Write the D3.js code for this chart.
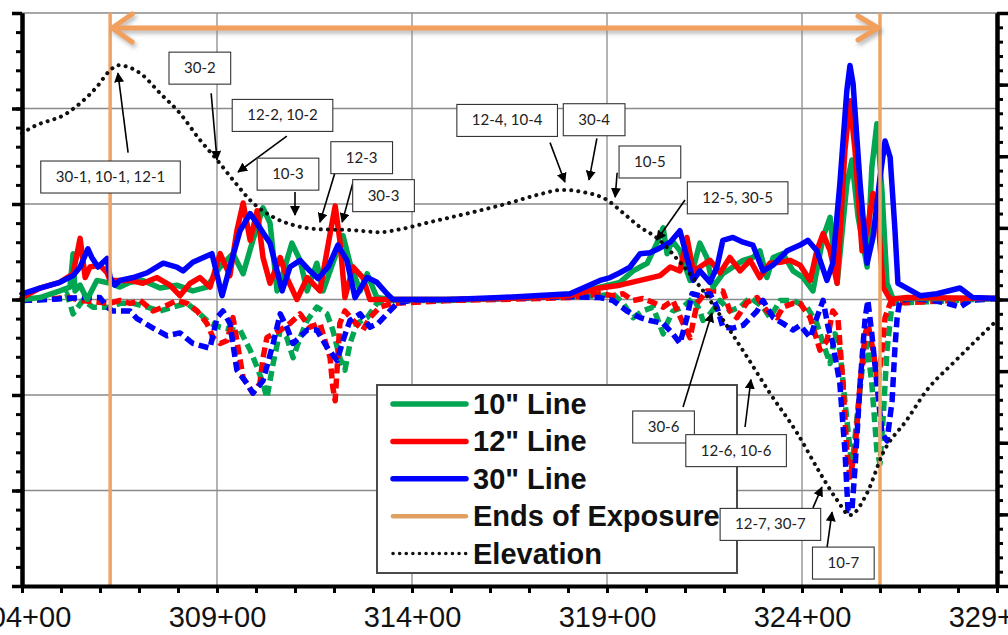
<!DOCTYPE html>
<html>
<head>
<meta charset="utf-8">
<script src="https://d3js.org/d3.v7.min.js"></script>
<style>
body { margin: 0; background: #fff; overflow: hidden; }
svg { display: block; }
</style>
</head>
<body>
<div id="chart"></div>
<script>
// stations (Sta. 304+00 .. 329+00) and response values
// positive (solid) and negative (dashed) traces for each line
var line10Pos = [[304.0,0.0],[304.46,0.02],[304.97,0.09],[305.23,0.13],[305.31,0.48],[305.36,0.09],[305.49,0.15],[305.67,0.0],[305.92,0.2],[306.26,0.17],[306.51,0.13],[306.77,0.18],[307.1,0.2],[307.54,0.12],[307.97,0.15],[308.38,0.09],[308.74,0.13],[309.08,0.34],[309.41,0.48],[309.67,0.27],[309.92,0.62],[310.18,0.96],[310.36,0.8],[310.54,0.09],[310.69,0.27],[310.92,0.59],[311.13,0.41],[311.31,0.09],[311.56,0.38],[311.72,0.09],[311.97,0.38],[312.23,0.67],[312.41,0.38],[312.67,0.09],[312.85,0.27],[313.1,0.02],[313.44,0.0],[314.97,0.0],[316.26,0.01],[318.05,0.05],[318.82,0.13],[319.33,0.18],[319.67,0.3],[320.03,0.38],[320.28,0.59],[320.44,0.75],[320.54,0.48],[320.67,0.62],[320.87,0.51],[321.13,0.2],[321.38,0.59],[321.56,0.44],[321.72,0.13],[321.97,0.27],[322.23,0.34],[322.49,0.41],[322.74,0.44],[322.92,0.51],[323.1,0.23],[323.26,0.44],[323.51,0.48],[323.77,0.3],[324.03,0.23],[324.28,0.09],[324.54,0.65],[324.72,0.86],[324.9,0.17],[325.15,1.21],[325.28,1.46],[325.44,0.86],[325.67,0.34],[325.79,1.38],[325.92,1.84],[326.05,1.14],[326.18,0.17],[326.33,0.01],[329.0,0.01]];
var line12Pos = [[304.0,0.02],[304.46,0.12],[304.97,0.18],[305.31,0.27],[305.49,0.64],[305.62,0.23],[305.74,0.34],[306.0,0.36],[306.18,0.28],[306.26,0.2],[306.51,0.2],[306.77,0.2],[307.1,0.17],[307.46,0.23],[307.79,0.15],[308.05,0.04],[308.31,0.17],[308.56,0.23],[308.82,0.13],[309.08,0.48],[309.33,0.25],[309.51,0.72],[309.67,1.01],[309.85,0.62],[310.03,0.93],[310.18,0.44],[310.36,0.17],[310.62,0.44],[310.79,0.23],[311.05,0.0],[311.31,0.23],[311.64,0.09],[311.9,0.69],[312.03,0.98],[312.15,0.62],[312.28,0.02],[312.49,0.34],[312.74,0.23],[312.92,0.0],[313.44,0.0],[314.97,0.0],[316.26,0.01],[318.05,0.04],[318.82,0.12],[319.33,0.15],[319.85,0.2],[320.36,0.25],[320.62,0.34],[320.87,0.3],[321.05,0.65],[321.21,0.3],[321.38,0.34],[321.64,0.41],[321.9,0.28],[322.15,0.44],[322.41,0.3],[322.67,0.41],[322.92,0.23],[323.18,0.38],[323.44,0.39],[323.69,0.41],[323.95,0.36],[324.21,0.2],[324.38,0.51],[324.54,0.69],[324.72,0.51],[324.9,0.17],[325.1,1.56],[325.23,2.08],[325.36,1.56],[325.54,0.51],[325.67,0.72],[325.82,1.11],[325.95,0.86],[326.08,0.13],[326.26,0.0],[326.69,0.02],[329.0,0.01]];
var line30Pos = [[304.0,0.06],[304.46,0.12],[304.97,0.18],[305.31,0.25],[305.49,0.34],[305.69,0.53],[305.79,0.44],[305.95,0.34],[306.18,0.43],[306.26,0.23],[306.38,0.15],[306.51,0.2],[306.85,0.23],[307.21,0.28],[307.62,0.38],[307.97,0.34],[308.13,0.3],[308.38,0.39],[308.87,0.48],[309.13,0.04],[309.33,0.34],[309.59,0.72],[309.85,0.9],[310.1,0.75],[310.36,0.59],[310.67,0.09],[310.87,0.34],[311.13,0.41],[311.38,0.3],[311.59,0.22],[311.85,0.34],[312.1,0.57],[312.33,0.41],[312.54,0.02],[312.85,0.23],[313.1,0.18],[313.36,0.06],[313.51,0.0],[313.95,0.0],[314.97,0.0],[316.26,0.02],[318.05,0.06],[318.82,0.2],[319.08,0.23],[319.33,0.28],[319.59,0.34],[319.85,0.48],[320.1,0.49],[320.36,0.54],[320.62,0.6],[320.87,0.72],[321.05,0.44],[321.21,0.2],[321.38,0.3],[321.64,0.18],[321.82,0.34],[321.97,0.62],[322.23,0.65],[322.49,0.6],[322.74,0.57],[323.0,0.3],[323.26,0.36],[323.62,0.51],[323.95,0.57],[324.15,0.62],[324.38,0.51],[324.64,0.2],[324.79,0.38],[324.97,1.21],[325.15,2.19],[325.23,2.45],[325.31,2.26],[325.49,1.21],[325.67,0.38],[325.82,0.65],[326.0,1.28],[326.13,1.66],[326.26,1.49],[326.38,0.75],[326.46,0.17],[326.64,0.13],[327.03,0.04],[327.46,0.06],[328.05,0.12],[328.38,0.02],[329.0,0.01]];
var line10Neg = [[304.0,-0.01],[304.97,0.01],[305.15,0.06],[305.31,-0.15],[305.56,-0.01],[305.82,-0.08],[306.26,-0.08],[306.51,-0.04],[306.85,-0.04],[307.21,-0.08],[307.54,-0.12],[307.87,-0.08],[308.23,-0.04],[308.56,-0.15],[308.82,-0.25],[309.08,-0.29],[309.41,-0.32],[309.59,-0.32],[309.85,-0.53],[310.03,-0.71],[310.18,-0.88],[310.28,-1.03],[310.44,-0.67],[310.62,-0.32],[310.79,-0.4],[310.95,-0.61],[311.13,-0.4],[311.31,-0.22],[311.56,-0.08],[311.82,-0.15],[311.97,-0.32],[312.15,-0.61],[312.28,-0.74],[312.41,-0.46],[312.59,-0.25],[312.85,-0.19],[313.1,-0.04],[313.44,-0.01],[314.97,-0.01],[316.26,0.01],[318.05,0.03],[318.82,0.04],[319.15,0.06],[319.41,-0.04],[319.67,-0.19],[319.92,-0.12],[320.18,-0.08],[320.44,-0.36],[320.54,-0.25],[320.69,-0.12],[320.95,-0.08],[321.21,0.02],[321.38,-0.12],[321.46,-0.22],[321.64,-0.15],[321.9,-0.01],[322.15,-0.12],[322.41,-0.08],[322.67,0.02],[323.0,-0.08],[323.18,-0.19],[323.44,-0.01],[323.77,-0.01],[324.13,-0.08],[324.38,-0.25],[324.54,-0.46],[324.72,-0.67],[324.85,-0.36],[324.97,-0.53],[325.1,-1.06],[325.28,-1.76],[325.41,-1.24],[325.54,-0.74],[325.67,-0.46],[325.79,-0.88],[325.92,-1.58],[326.0,-1.72],[326.08,-1.24],[326.18,-0.53],[326.31,-0.04],[329.0,0.01]];
var line12Neg = [[304.0,-0.01],[305.23,0.02],[305.49,-0.01],[306.26,-0.04],[306.51,-0.01],[306.77,-0.04],[307.03,-0.01],[307.36,-0.12],[307.62,-0.08],[307.97,-0.01],[308.23,-0.04],[308.49,-0.12],[308.74,-0.25],[308.9,-0.4],[309.08,-0.46],[309.26,-0.43],[309.41,-0.19],[309.51,-0.43],[309.67,-0.82],[309.92,-0.98],[310.1,-0.88],[310.18,-0.61],[310.28,-0.4],[310.62,-0.32],[310.87,-0.25],[311.13,-0.15],[311.38,-0.29],[311.64,-0.25],[311.82,-0.5],[311.9,-0.61],[311.97,-0.92],[312.03,-1.06],[312.15,-0.25],[312.28,-0.12],[312.49,-0.22],[312.74,-0.32],[312.92,-0.19],[313.18,-0.08],[313.51,-0.04],[314.97,-0.01],[316.26,0.0],[318.05,0.02],[318.82,0.06],[319.15,0.04],[319.41,0.06],[319.67,-0.01],[319.92,0.01],[320.18,-0.03],[320.44,-0.08],[320.69,-0.01],[320.95,-0.25],[321.13,-0.4],[321.31,-0.04],[321.56,0.09],[321.97,0.09],[322.15,-0.12],[322.33,-0.19],[322.59,-0.03],[322.85,0.02],[323.1,-0.12],[323.36,-0.19],[323.51,-0.08],[323.77,-0.04],[323.95,-0.04],[324.21,-0.19],[324.46,-0.53],[324.64,-0.43],[324.79,-0.12],[324.92,-0.19],[325.05,-0.88],[325.15,-1.58],[325.23,-1.86],[325.36,-1.58],[325.49,-0.88],[325.62,-0.36],[325.69,-0.25],[325.82,-0.53],[325.95,-0.88],[326.05,-0.53],[326.13,-0.19],[326.26,-0.04],[329.0,0.01]];
var line30Neg = [[304.0,-0.01],[304.72,0.0],[305.49,0.02],[306.0,0.02],[306.18,-0.08],[306.33,-0.12],[306.77,-0.12],[306.95,-0.2],[307.36,-0.3],[307.72,-0.38],[308.05,-0.35],[308.38,-0.46],[308.82,-0.51],[309.0,-0.19],[309.15,-0.12],[309.33,-0.25],[309.51,-0.74],[309.77,-0.88],[309.92,-0.98],[310.18,-0.85],[310.44,-0.46],[310.62,-0.15],[310.79,-0.29],[310.95,-0.46],[311.31,-0.32],[311.56,-0.32],[311.82,-0.5],[312.08,-0.64],[312.23,-0.43],[312.41,-0.22],[312.67,-0.15],[312.92,-0.29],[313.13,-0.25],[313.36,-0.15],[313.62,-0.04],[313.95,-0.01],[314.97,0.0],[316.26,0.01],[318.05,0.03],[318.82,0.02],[319.15,-0.01],[319.51,-0.12],[319.85,-0.19],[320.1,-0.22],[320.44,-0.25],[320.69,-0.36],[320.87,-0.46],[321.05,-0.19],[321.18,0.06],[321.38,0.04],[321.64,0.06],[321.82,-0.08],[321.97,-0.29],[322.23,-0.3],[322.49,-0.27],[322.85,-0.12],[323.0,-0.01],[323.26,-0.19],[323.51,-0.25],[323.77,-0.32],[323.95,-0.27],[324.21,-0.4],[324.38,-0.19],[324.54,-0.01],[324.67,-0.29],[324.79,-0.46],[324.97,-0.88],[325.1,-1.58],[325.18,-2.21],[325.28,-2.21],[325.36,-1.76],[325.49,-0.88],[325.62,-0.19],[325.69,-0.01],[325.79,-0.36],[325.92,-0.88],[326.05,-1.4],[326.18,-1.48],[326.31,-1.06],[326.38,-0.53],[326.44,-0.19],[326.51,-0.01],[326.85,0.01],[327.36,-0.01],[327.72,-0.04],[328.05,-0.08],[328.31,-0.01],[329.0,0.01]];

// ground elevation profile (right axis units)
var elevSta = [304.0,304.28,305.15,305.92,306.26,306.46,307.03,307.54,308.05,308.56,309.0,309.41,309.92,310.44,310.95,311.64,312.41,313.18,313.69,314.46,315.49,316.51,317.21,317.87,318.38,319.0,319.41,319.85,320.28,320.87,321.64,322.15,322.59,323.18,323.87,324.46,324.9,325.23,325.67,326.08,326.69,327.21,327.87,328.56,329.0];
var elevVal = [6.32,6.41,6.6,6.97,7.2,7.27,7.16,6.88,6.6,6.23,5.95,5.67,5.35,5.15,5.04,4.98,4.97,4.94,4.98,5.08,5.21,5.35,5.46,5.53,5.5,5.39,5.21,5.01,4.86,4.52,3.99,3.57,3.2,2.69,2.14,1.58,1.2,0.99,1.3,1.86,2.32,2.74,3.11,3.48,3.71];

var exposureEnds = [306.26, 326.0];
var labelStations = [304, 309, 314, 319, 324, 329];
var legendNames = ['10" Line', '12" Line', '30" Line', 'Ends of Exposure', 'Elevation'];

// callouts: text, box centre, arrow start, arrow tip  (station, elevation)
var callouts = [
    {text: "30-1, 10-1, 12-1", box: [306.27, 5.71], from: [306.72, 6.05], to: [306.46, 7.16]},
    {text: "30-2",       box: [308.56, 7.23], from: [308.85, 6.88], to: [309.0, 5.95]},
    {text: "12-2, 10-2", box: [310.68, 6.57], from: [310.79, 6.28], to: [309.54, 5.78]},
    {text: "10-3",       box: [310.82, 5.75], from: [311.0, 5.5],   to: [311.0, 5.18]},
    {text: "12-3",       box: [312.71, 5.98], from: [312.03, 5.78], to: [311.64, 5.08]},
    {text: "30-3",       box: [313.27, 5.45], from: [312.49, 5.64], to: [312.21, 5.08]},
    {text: "12-4, 10-4", box: [316.44, 6.5],  from: [317.54, 6.19], to: [317.92, 5.64]},
    {text: "30-4",       box: [318.67, 6.51], from: [318.74, 6.25], to: [318.54, 5.67]},
    {text: "10-5",       box: [320.1, 5.92],  from: [319.26, 5.77], to: [319.21, 5.43]},
    {text: "12-5, 30-5", box: [322.35, 5.42], from: [321.0, 5.39],  to: [320.28, 4.83]},
    {text: "30-6",       box: [320.45, 2.22], from: [320.95, 2.5],  to: [321.69, 3.81]},
    {text: "12-6, 10-6", box: [322.31, 1.89], from: [322.54, 2.22], to: [322.69, 2.88]},
    {text: "12-7, 30-7", box: [323.19, 0.86], from: [324.28, 1.09], to: [324.51, 1.38]},
    {text: "10-7",       box: [325.06, 0.32], from: [324.64, 0.53], to: [324.77, 1.03]}
];

var W = 1008, H = 635;
var svg = d3.select("#chart").append("svg")
    .attr("width", W)
    .attr("height", H);

var x = d3.scaleLinear().domain([304, 329]).range([22, 997]);
var y = d3.scaleLinear().domain([-3, 3]).range([586, 13]);
var yE = d3.scaleLinear().domain([0, 8]).range([586, 13]);

var green = "#00a651", red = "#ff0000", blue = "#0000ff";
var orange = "#f0a05c";

var defs = svg.append("defs");
defs.append("marker")
    .attr("id", "arrowHead")
    .attr("viewBox", "0 0 10 10")
    .attr("refX", 9).attr("refY", 5)
    .attr("markerUnits", "userSpaceOnUse")
    .attr("markerWidth", 10).attr("markerHeight", 10)
    .attr("orient", "auto")
    .append("path").attr("d", "M0,0 L10,5 L0,10 z").attr("fill", "#000");
var shadow = defs.append("filter").attr("id", "shadow")
    .attr("x", "-5%").attr("y", "-80%").attr("width", "110%").attr("height", "260%");
shadow.append("feDropShadow").attr("dx", 2).attr("dy", 3)
    .attr("stdDeviation", 2).attr("flood-color", "#888").attr("flood-opacity", 0.6);

// grid
svg.append("g").selectAll("line")
    .data([-2, -1, 0, 1, 2, 3])
    .enter().append("line")
    .attr("x1", x(304)).attr("x2", x(329))
    .attr("y1", function(d){ return y(d); })
    .attr("y2", function(d){ return y(d); })
    .attr("stroke", "#8a8a8a").attr("stroke-width", 1.3);
svg.append("g").selectAll("line")
    .data([309, 314, 319, 324])
    .enter().append("line")
    .attr("x1", function(d){ return x(d); })
    .attr("x2", function(d){ return x(d); })
    .attr("y1", y(3)).attr("y2", y(-3))
    .attr("stroke", "#8a8a8a").attr("stroke-width", 1.3);

// the traces
var line = d3.line()
    .x(function(d){ return x(d[0]); })
    .y(function(d){ return y(d[1]); });

var traces = [
    {data: line10Neg, color: green, dashed: true},
    {data: line12Neg, color: red, dashed: true},
    {data: line30Neg, color: blue, dashed: true},
    {data: line10Pos, color: green, dashed: false},
    {data: line12Pos, color: red, dashed: false},
    {data: line30Pos, color: blue, dashed: false}
];
svg.append("g").selectAll("path")
    .data(traces)
    .enter().append("path")
    .attr("d", function(d){ return line(d.data); })
    .attr("fill", "none")
    .attr("stroke", function(d){ return d.color; })
    .attr("stroke-width", 5.5)
    .attr("stroke-linejoin", "round")
    .attr("stroke-linecap", function(d){ return d.dashed ? "butt" : "round"; })
    .attr("stroke-dasharray", function(d){ return d.dashed ? "10,5" : null; });

// ends of exposure
svg.append("g").selectAll("line")
    .data(exposureEnds)
    .enter().append("line")
    .attr("x1", function(d){ return x(d); })
    .attr("x2", function(d){ return x(d); })
    .attr("y1", y(3)).attr("y2", y(-3))
    .attr("stroke", "#eda466").attr("stroke-width", 3.5);

// elevation
var elevLine = d3.line()
    .x(function(d, i){ return x(elevSta[i]); })
    .y(function(d){ return yE(d); })
    .curve(d3.curveMonotoneX);
svg.append("path")
    .attr("d", elevLine(elevVal))
    .attr("fill", "none")
    .attr("stroke", "#111")
    .attr("stroke-width", 4)
    .attr("stroke-linecap", "round")
    .attr("stroke-dasharray", "0.1,7");

// top double arrow across the exposure
var arrowY = y(3) + 15;
var ax0 = x(exposureEnds[0]) + 2, ax1 = x(exposureEnds[1]) - 2;
var topArrow = svg.append("g").attr("filter", "url(#shadow)")
    .attr("stroke", orange).attr("stroke-width", 5).attr("fill", "none")
    .attr("stroke-linecap", "round").attr("stroke-linejoin", "round");
topArrow.append("line").attr("x1", ax0).attr("x2", ax1).attr("y1", arrowY).attr("y2", arrowY);
topArrow.append("path").attr("d", "M" + (ax0 + 20) + "," + (arrowY - 14) + " L" + ax0 + "," + arrowY + " L" + (ax0 + 20) + "," + (arrowY + 14));
topArrow.append("path").attr("d", "M" + (ax1 - 20) + "," + (arrowY - 12) + " L" + ax1 + "," + arrowY + " L" + (ax1 - 20) + "," + (arrowY + 12));

// legend
var legend = svg.append("g").attr("transform", "translate(377,385)");
legend.append("rect")
    .attr("width", 360).attr("height", 188)
    .attr("fill", "#fff").attr("stroke", "#4a4a4a").attr("stroke-width", 2);
var legendStyle = [
    {color: green, width: 5.5, dash: null},
    {color: red, width: 5.5, dash: null},
    {color: blue, width: 5.5, dash: null},
    {color: "#e0a060", width: 4.5, dash: null},
    {color: "#111", width: 3.5, dash: "0.1,6.5"}
];
var items = legend.selectAll("g.item")
    .data(legendNames)
    .enter().append("g")
    .attr("class", "item")
    .attr("transform", function(d, i){ return "translate(0," + (19 + i * 37.4) + ")"; });
items.append("line")
    .attr("x1", 16).attr("x2", 89)
    .attr("stroke", function(d, i){ return legendStyle[i].color; })
    .attr("stroke-width", function(d, i){ return legendStyle[i].width; })
    .attr("stroke-linecap", "round")
    .attr("stroke-dasharray", function(d, i){ return legendStyle[i].dash; });
items.append("text")
    .attr("x", 96).attr("y", 10)
    .attr("font-family", "Liberation Sans, Arial, sans-serif")
    .attr("font-weight", "bold")
    .attr("font-size", "29px")
    .attr("fill", "#111")
    .text(function(d){ return d; });

// callouts
var co = svg.append("g").selectAll("g")
    .data(callouts)
    .enter().append("g");
co.append("line")
    .attr("x1", function(d){ return x(d.from[0]); })
    .attr("y1", function(d){ return yE(d.from[1]); })
    .attr("x2", function(d){ return x(d.to[0]); })
    .attr("y2", function(d){ return yE(d.to[1]); })
    .attr("stroke", "#000").attr("stroke-width", 1.6)
    .attr("marker-end", "url(#arrowHead)");
var boxes = co.append("rect")
    .attr("fill", "#fff").attr("stroke", "#333").attr("stroke-width", 1.1);
var labels = co.append("text")
    .attr("x", function(d){ return x(d.box[0]); })
    .attr("y", function(d){ return yE(d.box[1]) + 5; })
    .attr("text-anchor", "middle")
    .attr("font-family", "Lato, sans-serif")
    .attr("font-size", "15px")
    .attr("fill", "#222")
    .text(function(d){ return d.text; });
labels.each(function(d){
    var w = this.getComputedTextLength() + 30;
    d3.select(this.parentNode).select("rect")
        .attr("x", x(d.box[0]) - w / 2)
        .attr("y", yE(d.box[1]) - 16)
        .attr("width", w)
        .attr("height", 32);
});

// axes
function styleAxis(g, tickW) {
    g.select(".domain").attr("stroke", "#000").attr("stroke-width", 4);
    g.selectAll(".tick line").attr("stroke", "#000").attr("stroke-width", tickW);
}
var xAxis = svg.append("g")
    .attr("transform", "translate(0," + y(-3) + ")")
    .call(d3.axisBottom(x)
        .tickValues(d3.range(304, 330, 1))
        .tickSize(7)
        .tickSizeOuter(0)
        .tickFormat(function(d){ return labelStations.indexOf(d) >= 0 ? d + "+00" : ""; }));
styleAxis(xAxis, 3);
xAxis.selectAll("text")
    .attr("y", 41).attr("dy", 0)
    .attr("font-family", "Liberation Sans, Arial, sans-serif")
    .attr("font-size", "29px")
    .attr("fill", "#111");

var yMinor = svg.append("g").attr("transform", "translate(" + x(304) + ",0)")
    .call(d3.axisLeft(y).tickValues(d3.range(-3, 3.001, 0.2)).tickSize(6).tickSizeOuter(0).tickFormat(""));
styleAxis(yMinor, 3);
var yMajor = svg.append("g").attr("transform", "translate(" + x(304) + ",0)")
    .call(d3.axisLeft(y).tickValues(d3.range(-3, 4, 1)).tickSize(10).tickSizeOuter(0).tickFormat(""));
styleAxis(yMajor, 3.5);

var eMinor = svg.append("g").attr("transform", "translate(" + x(329) + ",0)")
    .call(d3.axisRight(yE).tickValues(d3.range(0, 8.001, 0.2)).tickSize(6).tickSizeOuter(0).tickFormat(""));
styleAxis(eMinor, 3);
var eMajor = svg.append("g").attr("transform", "translate(" + x(329) + ",0)")
    .call(d3.axisRight(yE).tickValues(d3.range(0, 9, 1)).tickSize(11).tickSizeOuter(0).tickFormat(""));
styleAxis(eMajor, 3.5);
</script>
</body>
</html>
